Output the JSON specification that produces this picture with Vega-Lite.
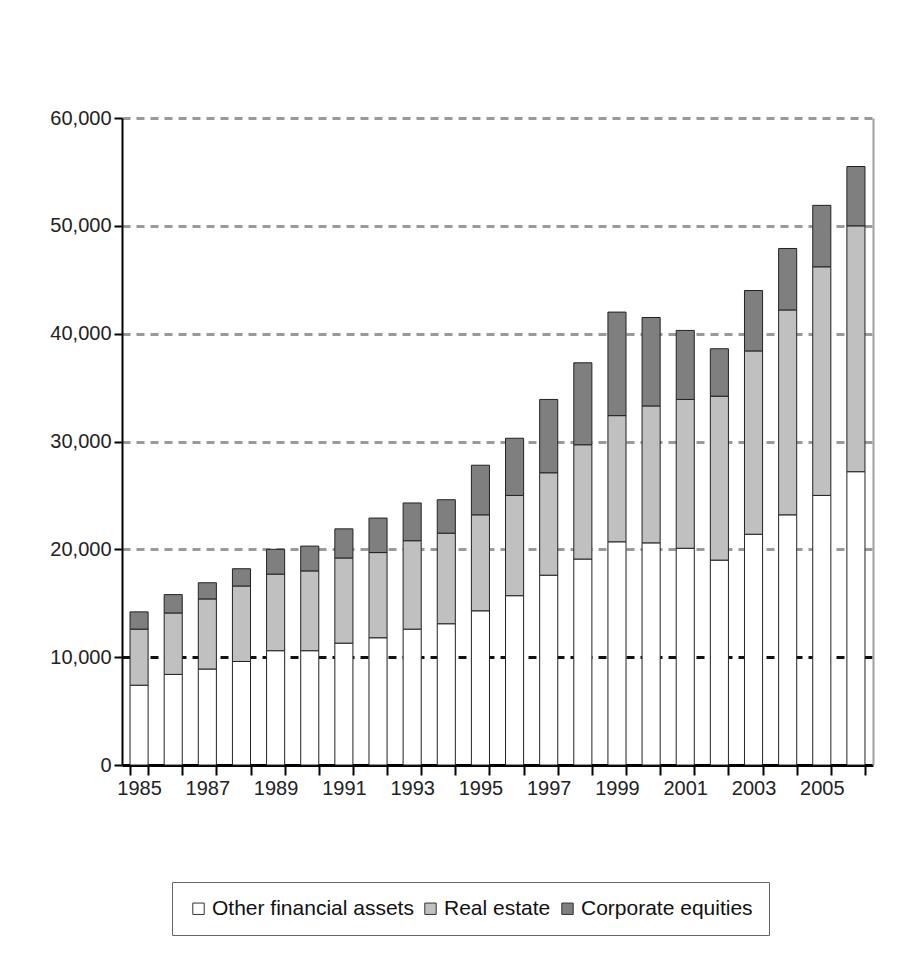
{
  "$schema": "https://vega.github.io/schema/vega-lite/v6.json",
  "width": 751,
  "height": 647,
  "padding": {"left": 49, "top": 108, "right": 20, "bottom": 10},
  "background": "white",
  "config": {
    "font": "Liberation Sans",
    "view": {"stroke": null},
    "axis": {"labelFont": "Liberation Sans", "labelFontSize": 20, "labelColor": "#222", "domainColor": "black", "tickColor": "black"},
    "legend": {"labelFont": "Liberation Sans"}
  },
  "data": {"values": [
    {"year": 1985, "series": "Other financial assets", "value": 7400}, {"year": 1985, "series": "Real estate", "value": 5200}, {"year": 1985, "series": "Corporate equities", "value": 1600},
    {"year": 1986, "series": "Other financial assets", "value": 8400}, {"year": 1986, "series": "Real estate", "value": 5700}, {"year": 1986, "series": "Corporate equities", "value": 1700},
    {"year": 1987, "series": "Other financial assets", "value": 8900}, {"year": 1987, "series": "Real estate", "value": 6500}, {"year": 1987, "series": "Corporate equities", "value": 1500},
    {"year": 1988, "series": "Other financial assets", "value": 9600}, {"year": 1988, "series": "Real estate", "value": 7000}, {"year": 1988, "series": "Corporate equities", "value": 1600},
    {"year": 1989, "series": "Other financial assets", "value": 10600}, {"year": 1989, "series": "Real estate", "value": 7100}, {"year": 1989, "series": "Corporate equities", "value": 2300},
    {"year": 1990, "series": "Other financial assets", "value": 10600}, {"year": 1990, "series": "Real estate", "value": 7400}, {"year": 1990, "series": "Corporate equities", "value": 2300},
    {"year": 1991, "series": "Other financial assets", "value": 11300}, {"year": 1991, "series": "Real estate", "value": 7900}, {"year": 1991, "series": "Corporate equities", "value": 2700},
    {"year": 1992, "series": "Other financial assets", "value": 11800}, {"year": 1992, "series": "Real estate", "value": 7900}, {"year": 1992, "series": "Corporate equities", "value": 3200},
    {"year": 1993, "series": "Other financial assets", "value": 12600}, {"year": 1993, "series": "Real estate", "value": 8200}, {"year": 1993, "series": "Corporate equities", "value": 3500},
    {"year": 1994, "series": "Other financial assets", "value": 13100}, {"year": 1994, "series": "Real estate", "value": 8400}, {"year": 1994, "series": "Corporate equities", "value": 3100},
    {"year": 1995, "series": "Other financial assets", "value": 14300}, {"year": 1995, "series": "Real estate", "value": 8900}, {"year": 1995, "series": "Corporate equities", "value": 4600},
    {"year": 1996, "series": "Other financial assets", "value": 15700}, {"year": 1996, "series": "Real estate", "value": 9300}, {"year": 1996, "series": "Corporate equities", "value": 5300},
    {"year": 1997, "series": "Other financial assets", "value": 17600}, {"year": 1997, "series": "Real estate", "value": 9500}, {"year": 1997, "series": "Corporate equities", "value": 6800},
    {"year": 1998, "series": "Other financial assets", "value": 19100}, {"year": 1998, "series": "Real estate", "value": 10600}, {"year": 1998, "series": "Corporate equities", "value": 7600},
    {"year": 1999, "series": "Other financial assets", "value": 20700}, {"year": 1999, "series": "Real estate", "value": 11700}, {"year": 1999, "series": "Corporate equities", "value": 9600},
    {"year": 2000, "series": "Other financial assets", "value": 20600}, {"year": 2000, "series": "Real estate", "value": 12700}, {"year": 2000, "series": "Corporate equities", "value": 8200},
    {"year": 2001, "series": "Other financial assets", "value": 20100}, {"year": 2001, "series": "Real estate", "value": 13800}, {"year": 2001, "series": "Corporate equities", "value": 6400},
    {"year": 2002, "series": "Other financial assets", "value": 19000}, {"year": 2002, "series": "Real estate", "value": 15200}, {"year": 2002, "series": "Corporate equities", "value": 4400},
    {"year": 2003, "series": "Other financial assets", "value": 21400}, {"year": 2003, "series": "Real estate", "value": 17000}, {"year": 2003, "series": "Corporate equities", "value": 5600},
    {"year": 2004, "series": "Other financial assets", "value": 23200}, {"year": 2004, "series": "Real estate", "value": 19000}, {"year": 2004, "series": "Corporate equities", "value": 5700},
    {"year": 2005, "series": "Other financial assets", "value": 25000}, {"year": 2005, "series": "Real estate", "value": 21200}, {"year": 2005, "series": "Corporate equities", "value": 5700},
    {"year": 2006, "series": "Other financial assets", "value": 27200}, {"year": 2006, "series": "Real estate", "value": 22800}, {"year": 2006, "series": "Corporate equities", "value": 5500}
  ]},
  "transform": [
    {"calculate": "indexof(['Other financial assets', 'Real estate', 'Corporate equities'], datum.series)", "as": "stackOrder"}
  ],
  "layer": [
    {
      "mark": {"type": "bar", "stroke": "#222", "strokeWidth": 1},
      "encoding": {
        "x": {"field": "year", "type": "ordinal", "scale": {"paddingInner": 0.47, "paddingOuter": 0.235},
          "axis": {"title": null, "labelAngle": 0, "labelExpr": "datum.value % 2 == 1 ? datum.label : ''", "tickBand": "extent", "domainWidth": 3, "tickSize": 10, "tickWidth": 2, "labelPadding": 3}},
        "y": {"field": "value", "type": "quantitative", "stack": "zero", "scale": {"domain": [0, 60000], "nice": false},
          "axis": {"title": null, "values": [0, 10000, 20000, 30000, 40000, 50000, 60000], "format": ",.0f", "grid": true, "gridDash": [8, 6], "gridWidth": 3,
            "gridColor": {"condition": {"test": "datum.value == 10000", "value": "#111"}, "value": "#9a9a9a"},
            "domainWidth": 2, "tickSize": 8, "tickWidth": 2, "labelPadding": 3}},
        "order": {"field": "stackOrder", "type": "quantitative", "sort": "ascending"},
        "color": {"field": "series", "type": "nominal",
          "scale": {"domain": ["Other financial assets", "Real estate", "Corporate equities"], "range": ["#ffffff", "#c0c0c0", "#7f7f7f"]},
          "legend": {"orient": "none", "legendX": 50, "legendY": 764, "direction": "horizontal", "title": null, "symbolType": "square", "symbolSize": 130,
            "symbolStrokeColor": "#333", "symbolStrokeWidth": 1, "labelFontSize": 21, "labelLimit": 0, "labelColor": "#111", "strokeColor": "#666", "padding": 16, "columnPadding": 6, "labelOffset": 3}}
      }
    },
    {
      "mark": {"type": "point", "opacity": 0},
      "encoding": {
        "x": {"field": "year", "type": "ordinal"},
        "y": {"field": "value", "type": "quantitative", "aggregate": "max",
          "axis": {"orient": "right", "labels": false, "ticks": false, "grid": false, "domainColor": "#a0a0a0", "domainWidth": 2, "title": null}}
      }
    }
  ],
  "resolve": {"axis": {"y": "independent"}}
}
